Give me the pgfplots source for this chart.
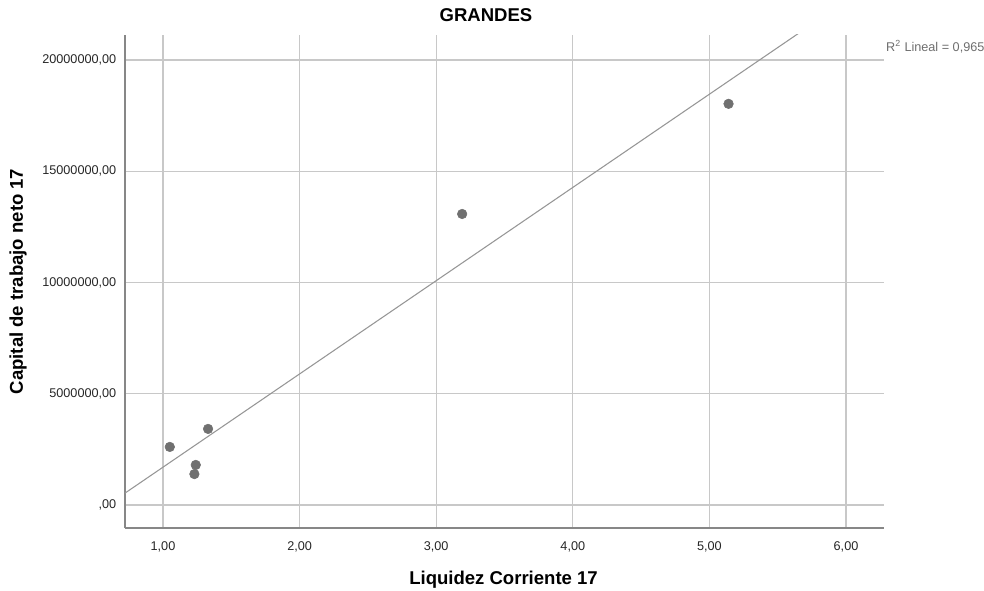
\documentclass[border=0pt]{standalone}
\usepackage{fontspec}
\setmainfont{Liberation Sans}
\usepackage{pgfplots}
\pgfplotsset{compat=1.18}
\definecolor{gridc}{RGB}{200,200,200}
\definecolor{axc}{RGB}{135,135,135}
\definecolor{ptc}{RGB}{112,112,112}
\definecolor{linec}{RGB}{150,150,150}
\definecolor{txtc}{RGB}{110,110,110}
\begin{document}
\begin{tikzpicture}
\path[use as bounding box] (-93.75pt,-46.5pt) rectangle (644.25pt,396pt);
\begin{axis}[
  at={(0pt,0pt)}, anchor=south west,
  scale only axis,
  width=569.25pt, height=369.75pt,
  xmin=0.722, xmax=6.278,
  ymin=-1034000, ymax=21124000,
  axis x line*=bottom, axis y line*=left,
  axis line style={axc, line width=1pt, -},
  xtick={1,2,3,4,5,6},
  xticklabels={{1,00},{2,00},{3,00},{4,00},{5,00},{6,00}},
  ytick={0,5000000,10000000,15000000,20000000},
  yticklabels={{,00},{5000000,00},{10000000,00},{15000000,00},{20000000,00}},
  scaled y ticks=false, scaled x ticks=false,
  major tick length=0pt,
  grid=major,
  major grid style={gridc, line width=0.8pt},
  tick label style={font=\fontsize{9.5}{11}\selectfont, text=black!85},
  xticklabel style={yshift=-7pt},
  yticklabel style={xshift=-3pt},
  xlabel={Liquidez Corriente 17},
  ylabel={Capital de trabajo neto 17},
  xlabel style={font=\fontsize{13.9}{16}\selectfont\bfseries, at={(axis description cs:0.4987,-0.1136)}, anchor=base},
  ylabel style={font=\fontsize{13.9}{16}\selectfont\bfseries, at={(axis description cs:-0.141,0.5)}, anchor=center},
  every axis title shift=0pt,
  title={GRANDES},
  title style={font=\fontsize{13.9}{16}\selectfont\bfseries, at={(axis description cs:0.4756,1.0264)}, anchor=base},
  clip mode=individual,
]
\addplot[linec, line width=0.8pt, no marks] coordinates {(0.722,534000) (6.278,23820000)};
\addplot[only marks, mark=*, mark size=3.6pt, mark options={fill=ptc, draw=ptc}] coordinates {
 (1.05,2610000) (1.33,3420000) (1.24,1800000) (1.23,1390000) (3.19,13080000) (5.14,18030000)
};
\node[anchor=west, text=txtc, font=\fontsize{9.5}{11}\selectfont, inner sep=0pt] at (axis description cs:1.0026,0.9757) {R\textsuperscript{2} Lineal = 0,965};
\end{axis}
\end{tikzpicture}
\end{document}
